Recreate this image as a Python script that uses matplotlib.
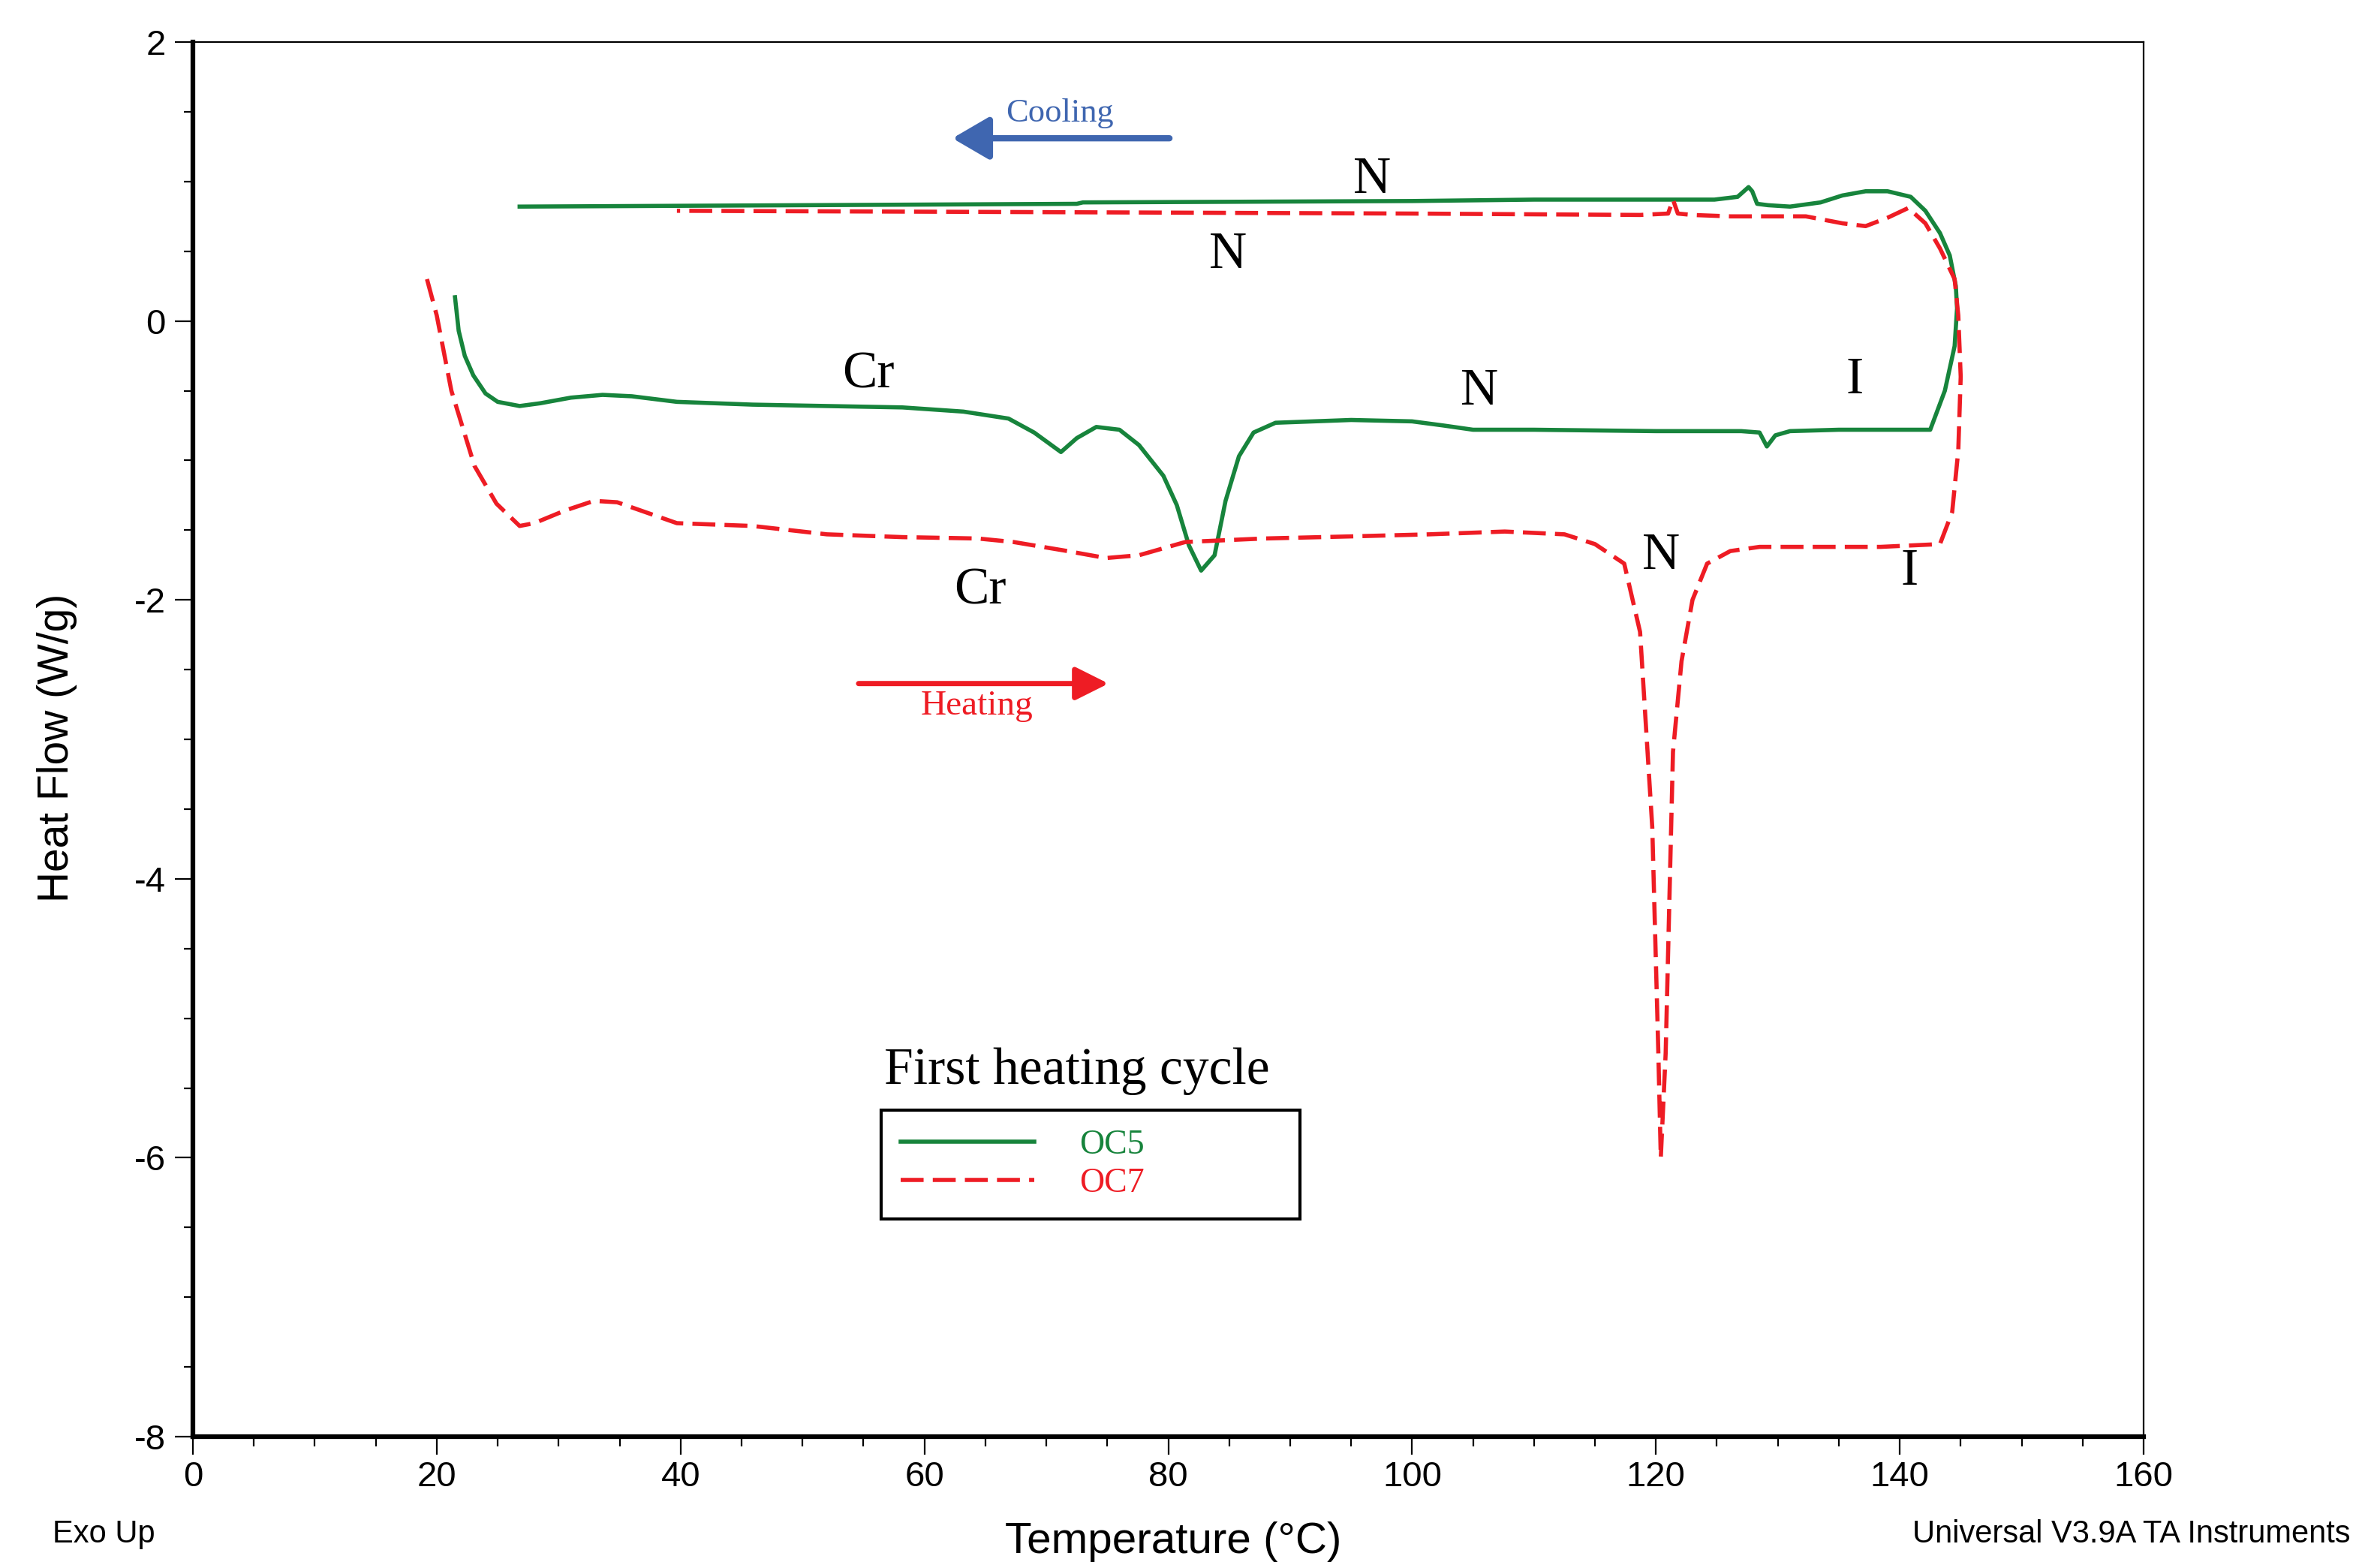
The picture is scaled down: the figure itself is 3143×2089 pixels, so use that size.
import matplotlib
matplotlib.use("Agg")
import matplotlib.pyplot as plt
from matplotlib import font_manager
from matplotlib.lines import Line2D
from matplotlib.ticker import MultipleLocator, FixedLocator

names = {f.name for f in font_manager.fontManager.ttflist}
SANS = "Liberation Sans Narrow" if "Liberation Sans Narrow" in names else "Liberation Sans"
SERIF = "Liberation Serif"
plt.rcParams['axes.unicode_minus'] = False

# ---------------- data ----------------
# OC5 heating (left->right) then cooling (right->left)
oc5_heat_T = [21.5, 21.8, 22.3, 23.0, 24.0, 25.0, 26.8, 28.5, 31.0, 33.6, 36.0, 39.7, 45.9,
              52.0, 58.2, 63.2, 66.9, 69.0, 71.2, 72.5, 74.1, 76.0, 77.6, 79.6, 80.7, 81.7,
              82.7, 83.8, 84.7, 85.8, 87.0, 88.8, 95.0, 100.0, 102.6, 105.0, 110.0, 120.0,
              127.0, 128.5, 129.1, 129.8, 131.0, 135.0, 140.0, 142.5, 143.7, 144.5, 144.7]
oc5_heat_H = [0.17, -0.07, -0.25, -0.39, -0.52, -0.58, -0.61, -0.59, -0.55, -0.53, -0.54, -0.58, -0.60,
              -0.61, -0.62, -0.65, -0.70, -0.80, -0.94, -0.84, -0.76, -0.78, -0.89, -1.11, -1.32, -1.61,
              -1.79, -1.68, -1.29, -0.97, -0.80, -0.73, -0.71, -0.72, -0.75, -0.78, -0.78, -0.79,
              -0.79, -0.80, -0.90, -0.82, -0.79, -0.78, -0.78, -0.78, -0.50, -0.18, 0.09]
oc5_cool_T = [144.6, 144.1, 143.3, 142.1, 140.9, 139.0, 137.2, 135.3, 133.5, 131.0, 129.2, 128.3,
              127.9, 127.6, 126.7, 124.8, 122.4, 110.0, 100.0, 73.0, 72.5, 50.0, 26.8]
oc5_cool_H = [0.25, 0.47, 0.63, 0.79, 0.89, 0.93, 0.93, 0.90, 0.85, 0.82, 0.83, 0.84,
              0.93, 0.96, 0.89, 0.87, 0.87, 0.87, 0.86, 0.85, 0.84, 0.83, 0.82]

# OC7 heating then cooling
oc7_heat_T = [19.2, 20.0, 21.2, 23.1, 24.9, 26.8, 28.0, 30.5, 32.9, 34.8, 39.7, 45.9, 52.0, 58.2,
              64.4, 67.3, 71.4, 74.9, 77.6, 81.4, 87.8, 94.9, 101.4, 107.6, 112.5, 115.0, 117.4,
              118.7, 119.7, 120.2, 120.4, 120.8, 121.4, 122.1, 123.0, 124.2, 126.1, 128.5, 132.3,
              138.4, 143.3, 144.3, 144.8, 145.0, 144.8]
oc7_heat_H = [0.30, 0.04, -0.50, -1.04, -1.31, -1.47, -1.45, -1.36, -1.29, -1.30, -1.45, -1.47, -1.53, -1.55,
              -1.56, -1.585, -1.645, -1.70, -1.68, -1.585, -1.56, -1.545, -1.53, -1.51, -1.53, -1.60, -1.74,
              -2.23, -3.63, -5.25, -6.0, -5.25, -3.09, -2.44, -2.0, -1.74, -1.65, -1.62, -1.62,
              -1.62, -1.60, -1.37, -0.93, -0.40, 0.04]
oc7_cool_T = [144.5, 143.3, 142.1, 140.7, 139.0, 137.2, 135.3, 132.3, 126.1, 123.0, 121.8, 121.4,
              121.0, 118.7, 100.0, 70.5, 39.7]
oc7_cool_H = [0.30, 0.52, 0.70, 0.81, 0.74, 0.68, 0.70, 0.75, 0.75, 0.76, 0.77, 0.87,
              0.77, 0.76, 0.77, 0.78, 0.79]

series_names = ["OC5", "OC7"]
x_ticks = [0, 20, 40, 60, 80, 100, 120, 140, 160]
y_ticks = [2, 0, -2, -4, -6, -8]

# phase labels: (text, T, H)
phase_labels = [("N", 96.7, 1.01), ("N", 84.9, 0.47), ("Cr", 55.4, -0.39), ("N", 105.5, -0.51),
                ("I", 136.3, -0.43), ("Cr", 64.6, -1.94), ("N", 120.4, -1.69), ("I", 140.8, -1.80)]

GREEN = "#17843c"
RED = "#ee1c24"
BLUE = "#3f66b0"
LW = 4.0
DASH = (0, (5.5, 2.2))

# ---------------- figure ----------------
fig = plt.figure(figsize=(31.43, 20.89), dpi=100)
ax = fig.add_axes([257 / 3143, 1 - 1914 / 2089, (2856 - 257) / 3143, (1914 - 56) / 2089])

ax.plot(oc5_heat_T + oc5_cool_T, oc5_heat_H + oc5_cool_H, color=GREEN, lw=LW,
        solid_joinstyle='round')
ax.plot(oc7_heat_T + oc7_cool_T, oc7_heat_H + oc7_cool_H, color=RED, lw=LW,
        linestyle=DASH)

ax.set_xlim(0, 160)
ax.set_ylim(-8, 2)
ax.xaxis.set_major_locator(FixedLocator(x_ticks))
ax.xaxis.set_minor_locator(MultipleLocator(5))
ax.yaxis.set_major_locator(FixedLocator(y_ticks))
ax.yaxis.set_minor_locator(MultipleLocator(0.5))
ax.set_xticklabels([str(v) for v in x_ticks])
ax.set_yticklabels([str(v) for v in y_ticks])
ax.tick_params(which='major', direction='out', length=17, width=1.6, labelsize=34, pad=6)
ax.tick_params(which='minor', direction='out', length=9, width=1.6)
ax.tick_params(axis='y', which='major', pad=9)
for lab in ax.get_xticklabels() + ax.get_yticklabels():
    lab.set_fontfamily(SANS)

ax.spines['left'].set_linewidth(4.5)
ax.spines['bottom'].set_linewidth(4.5)
ax.spines['top'].set_linewidth(1.6)
ax.spines['right'].set_linewidth(1.6)

for txt, t, h in phase_labels:
    ax.text(t, h, txt, fontsize=50, family=SERIF, ha='center', va='center', color='black')

# direction arrows
ax.annotate('', xy=(62.3, 1.31), xytext=(80.1, 1.31),
            arrowprops=dict(arrowstyle='-|>,head_length=0.6,head_width=0.35', color=BLUE,
                            lw=6, mutation_scale=50, capstyle='round', shrinkA=0, shrinkB=0))
ax.text(71.1, 1.49, "Cooling", color=BLUE, fontsize=32, family=SERIF, ha='center', va='center')
ax.annotate('', xy=(75.1, -2.6), xytext=(54.6, -2.6),
            arrowprops=dict(arrowstyle='-|>,head_length=0.6,head_width=0.3', color=RED,
                            lw=5, mutation_scale=45, shrinkA=0, shrinkB=0))
ax.text(64.3, -2.76, "Heating", color=RED, fontsize=34, family=SERIF, ha='center', va='center')

# legend
handles = [Line2D([], [], color=GREEN, lw=LW),
           Line2D([], [], color=RED, lw=LW, linestyle=DASH)]
leg = ax.legend(handles, series_names, loc='upper left',
                bbox_to_anchor=(0.353, 0.1610, 0.2145, 0.0731), mode='expand',
                prop={'family': SERIF, 'size': 33}, handlelength=3.9, handletextpad=1.3,
                labelspacing=0.2, borderpad=0.55, borderaxespad=0, fancybox=False,
                frameon=True, edgecolor='black', framealpha=1)
leg.get_frame().set_linewidth(3)
for txt, c in zip(leg.get_texts(), [GREEN, RED]):
    txt.set_color(c)
ax.text(56.7, -5.38, "First heating cycle", fontsize=50, family=SERIF, ha='left', va='center')

# axis labels and footers
fig.text(76 / 3143, 1 - 996 / 2089, "Heat Flow (W/g)", rotation=90, ha='center', va='center',
         fontsize=41, family=SANS)
fig.text(1563 / 3143, 1 - 2054 / 2089, "Temperature (°C)", ha='center', va='center',
         fontsize=42, family=SANS)
fig.text(70 / 3143, 1 - 2044 / 2089, "Exo Up", ha='left', va='center', fontsize=30, family=SANS)
fig.text(3131 / 3143, 1 - 2044 / 2089, "Universal V3.9A TA Instruments", ha='right', va='center',
         fontsize=30, family=SANS)

fig.savefig("out.png", dpi=100, facecolor='white')
